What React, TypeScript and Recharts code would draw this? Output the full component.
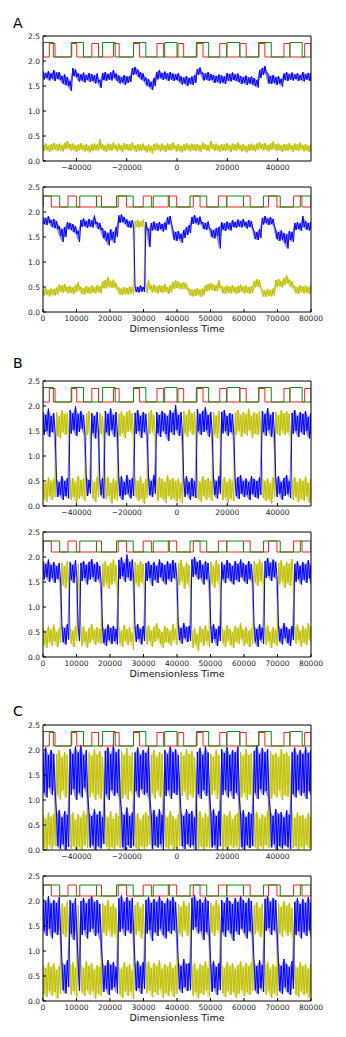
import React from 'react';
import { ComposedChart, Line, Area, XAxis, YAxis } from 'recharts';

const FONT = "'DejaVu Sans', sans-serif";

// ---------- axes ----------
const topDomain: [number, number] = [-53300, 53300];
const bottomDomain: [number, number] = [0, 80000];
const topTicks = [-40000, -20000, 0, 20000, 40000];
const bottomTicks = [0, 10000, 20000, 30000, 40000, 50000, 60000, 70000, 80000];
const yTicks = [0, 0.5, 1.0, 1.5, 2.0, 2.5];

// ---------- input square waves (high intervals) ----------
const topGreenOn = [-53300, -42100, -29600, -17300, -4900, 7700, 19900, 32500, 44900];
const topGreenOff = [-49200, -37200, -24600, -12400, 0, 12600, 25000, 37500, 49800];
const topRedOn = [-50770, -41860, -33890, -25250, -17280, -7970, 400, 7970, 17010, 24990, 32560, 42530, 50770];
const topRedOff = [-48510, -39870, -31230, -22990, -14880, -5320, 2660, 10370, 19670, 27510, 34950, 44920, 53300];
const botGreenOn = [0, 10970, 21950, 32920, 43890, 54860, 65840, 76810];
const botGreenOff = [4990, 15960, 26930, 37710, 48880, 59850, 70820, 80000];
const botRedOn = [0, 7480, 15960, 22440, 29920, 37400, 44880, 52360, 59840, 67320, 74800];
const botRedOff = [2490, 9970, 17460, 24940, 32420, 39900, 46880, 54860, 61850, 69830, 77310];

// ---------- outputs: upper / lower edge of the noisy traces ----------
// Panel A, top
const aTopBlueHi = [1.79,1.76,1.80,1.75,1.82,1.77,1.78,1.70,1.73,1.68,1.60,1.86,1.83,1.75,1.73,1.77,1.72,1.76,1.74,1.71,1.75,1.62,1.76,1.78,1.74,1.77,1.82,1.75,1.71,1.68,1.72,1.69,1.70,1.86,1.88,1.83,1.78,1.75,1.67,1.64,1.58,1.66,1.78,1.82,1.76,1.79,1.75,1.78,1.75,1.73,1.76,1.69,1.67,1.70,1.66,1.69,1.72,1.84,1.87,1.77,1.75,1.78,1.74,1.72,1.70,1.73,1.71,1.69,1.76,1.74,1.77,1.73,1.75,1.70,1.68,1.71,1.67,1.69,1.66,1.62,1.82,1.86,1.90,1.76,1.70,1.72,1.68,1.70,1.64,1.75,1.78,1.74,1.77,1.73,1.76,1.72,1.78,1.74,1.76,1.75];
const aTopBlueLo = [1.63,1.66,1.61,1.65,1.60,1.64,1.62,1.55,1.52,1.50,1.40,1.70,1.68,1.59,1.61,1.57,1.62,1.58,1.60,1.55,1.57,1.46,1.62,1.60,1.63,1.61,1.66,1.60,1.55,1.57,1.52,1.56,1.58,1.72,1.74,1.68,1.63,1.60,1.51,1.48,1.42,1.50,1.63,1.66,1.62,1.64,1.60,1.63,1.60,1.62,1.59,1.53,1.55,1.50,1.54,1.52,1.56,1.72,1.74,1.61,1.63,1.60,1.62,1.56,1.58,1.55,1.57,1.54,1.61,1.59,1.62,1.60,1.58,1.54,1.56,1.52,1.55,1.53,1.50,1.47,1.66,1.72,1.76,1.55,1.54,1.56,1.52,1.55,1.49,1.62,1.60,1.63,1.61,1.64,1.60,1.62,1.59,1.63,1.61,1.60];
const aTopYellowHi = [0.32,0.35,0.31,0.34,0.36,0.33,0.35,0.32,0.36,0.40,0.34,0.35,0.31,0.33,0.36,0.32,0.34,0.30,0.33,0.35,0.33,0.44,0.34,0.31,0.35,0.33,0.37,0.32,0.35,0.31,0.36,0.34,0.33,0.37,0.31,0.34,0.33,0.35,0.30,0.33,0.29,0.34,0.36,0.32,0.35,0.31,0.35,0.33,0.37,0.32,0.34,0.30,0.33,0.36,0.32,0.35,0.33,0.34,0.31,0.37,0.34,0.32,0.40,0.33,0.35,0.31,0.34,0.33,0.36,0.31,0.35,0.33,0.37,0.32,0.34,0.30,0.33,0.35,0.32,0.35,0.38,0.34,0.36,0.32,0.35,0.39,0.33,0.35,0.31,0.34,0.33,0.36,0.31,0.35,0.33,0.37,0.32,0.34,0.31,0.33];
const aTopYellowLo = [0.20,0.22,0.18,0.21,0.23,0.20,0.22,0.19,0.23,0.25,0.21,0.22,0.18,0.21,0.23,0.19,0.21,0.17,0.20,0.22,0.20,0.24,0.21,0.18,0.22,0.20,0.24,0.19,0.22,0.18,0.23,0.21,0.20,0.24,0.18,0.21,0.20,0.22,0.17,0.20,0.15,0.21,0.23,0.19,0.22,0.18,0.22,0.20,0.24,0.19,0.21,0.17,0.20,0.23,0.19,0.22,0.20,0.21,0.18,0.24,0.21,0.19,0.25,0.20,0.22,0.18,0.21,0.20,0.23,0.18,0.22,0.20,0.24,0.19,0.21,0.17,0.20,0.22,0.19,0.22,0.25,0.21,0.23,0.19,0.22,0.24,0.20,0.22,0.18,0.21,0.20,0.23,0.18,0.22,0.20,0.24,0.19,0.21,0.18,0.20];
// Panel A, bottom
const aBotBlueHi = [1.90,1.88,1.92,1.84,1.86,1.82,1.72,1.66,1.70,1.80,1.78,1.76,1.72,1.62,1.84,1.87,1.82,1.86,1.83,1.93,1.80,1.78,1.68,1.62,1.58,1.66,1.60,1.70,1.93,1.95,1.90,1.85,1.82,1.84,0.52,0.50,0.53,0.50,1.80,1.66,1.78,1.81,1.77,1.80,1.76,1.79,1.90,1.92,1.64,1.60,1.62,1.56,1.64,1.70,1.74,1.90,1.94,1.88,1.91,1.80,1.78,1.81,1.66,1.64,1.68,1.70,1.80,1.77,1.81,1.78,1.84,1.80,1.85,1.82,1.86,1.80,1.84,1.82,1.62,1.60,1.66,1.88,1.92,1.87,1.90,1.86,1.64,1.60,1.63,1.58,1.55,1.62,1.60,1.78,1.80,1.77,1.92,1.82,1.78,1.80];
const aBotBlueLo = [1.76,1.74,1.78,1.70,1.68,1.66,1.52,1.40,1.50,1.66,1.64,1.60,1.56,1.40,1.70,1.72,1.68,1.71,1.69,1.76,1.66,1.64,1.48,1.42,1.33,1.45,1.38,1.50,1.78,1.80,1.76,1.70,1.68,1.70,0.40,0.39,0.41,0.40,1.64,1.30,1.63,1.65,1.62,1.66,1.61,1.64,1.75,1.77,1.45,1.42,1.46,1.38,1.48,1.54,1.58,1.76,1.78,1.74,1.77,1.66,1.64,1.67,1.50,1.47,1.52,1.27,1.65,1.62,1.66,1.63,1.70,1.68,1.71,1.69,1.72,1.67,1.70,1.68,1.46,1.44,1.48,1.75,1.78,1.74,1.76,1.72,1.46,1.42,1.45,1.38,1.27,1.44,1.40,1.64,1.66,1.62,1.70,1.65,1.63,1.66];
const aBotYellowHi = [0.46,0.48,0.44,0.47,0.46,0.49,0.55,0.53,0.56,0.50,0.52,0.49,0.54,0.60,0.50,0.48,0.52,0.49,0.53,0.50,0.54,0.51,0.62,0.64,0.70,0.62,0.65,0.58,0.49,0.47,0.50,0.48,0.51,0.49,1.82,1.84,1.81,1.85,0.52,0.64,0.53,0.55,0.51,0.54,0.52,0.56,0.50,0.53,0.60,0.63,0.61,0.58,0.60,0.57,0.47,0.45,0.46,0.48,0.45,0.47,0.54,0.56,0.58,0.55,0.54,0.64,0.52,0.50,0.53,0.51,0.54,0.50,0.52,0.55,0.51,0.53,0.50,0.52,0.62,0.66,0.63,0.45,0.43,0.46,0.44,0.47,0.64,0.66,0.62,0.68,0.74,0.65,0.62,0.52,0.50,0.54,0.51,0.53,0.50,0.55];
const aBotYellowLo = [0.33,0.35,0.31,0.34,0.33,0.35,0.40,0.38,0.41,0.37,0.38,0.36,0.40,0.44,0.36,0.35,0.38,0.36,0.39,0.37,0.40,0.37,0.48,0.47,0.50,0.48,0.49,0.45,0.35,0.34,0.36,0.35,0.37,0.36,1.70,1.69,1.71,1.68,0.38,0.46,0.39,0.40,0.37,0.40,0.38,0.41,0.36,0.39,0.46,0.48,0.47,0.45,0.47,0.44,0.33,0.31,0.32,0.34,0.30,0.33,0.41,0.43,0.44,0.42,0.41,0.48,0.38,0.36,0.39,0.37,0.40,0.36,0.38,0.41,0.37,0.39,0.36,0.38,0.49,0.51,0.48,0.31,0.30,0.32,0.31,0.33,0.50,0.52,0.49,0.54,0.58,0.51,0.48,0.38,0.36,0.40,0.37,0.39,0.36,0.41];
// Panel B, top
const bTopBlueHi = [1.88,1.82,1.95,1.80,1.86,0.55,0.48,0.60,0.50,0.56,1.92,1.85,2.00,1.84,1.90,1.82,0.58,0.52,1.86,1.80,1.88,0.50,0.56,1.90,1.84,1.95,1.82,1.88,0.55,0.60,0.48,0.62,0.52,0.56,1.86,1.92,1.80,1.88,1.84,0.58,0.50,0.62,1.88,1.82,1.90,1.85,1.80,1.92,1.86,2.02,1.82,1.88,0.52,0.60,0.48,0.56,0.50,1.94,1.84,1.90,1.98,1.82,1.88,0.56,0.50,0.60,1.88,1.92,1.80,1.86,1.84,0.52,0.58,0.62,0.50,0.55,0.48,0.60,0.54,0.50,0.58,1.90,1.84,1.96,1.82,1.88,0.55,0.60,0.48,0.56,0.62,0.50,1.86,1.92,1.80,1.88,1.84,1.90,1.78,1.86];
const bTopBlueLo = [1.42,1.50,1.38,1.48,1.45,0.18,0.22,0.12,0.20,0.15,1.45,1.52,1.40,1.48,1.55,1.42,0.20,0.25,1.46,1.35,1.50,0.22,0.15,1.48,1.40,1.52,1.38,1.46,0.20,0.12,0.22,0.25,0.15,0.20,1.44,1.50,1.36,1.48,1.42,0.22,0.18,0.25,1.46,1.38,1.50,1.44,1.30,1.48,1.42,1.52,1.40,1.45,0.18,0.24,0.12,0.20,0.16,1.50,1.42,1.48,1.52,1.38,1.46,0.22,0.15,0.25,1.45,1.50,1.40,1.48,1.42,0.20,0.14,0.25,0.18,0.22,0.12,0.24,0.18,0.15,0.22,1.48,1.40,1.52,1.38,1.46,0.18,0.25,0.12,0.20,0.24,0.16,1.44,1.50,1.38,1.48,1.42,1.50,1.35,1.46];
const bTopYellowHi = [0.52,0.46,0.58,0.50,0.55,1.88,1.80,1.92,1.84,1.86,0.50,0.56,0.48,0.60,0.52,0.55,1.85,1.90,0.54,0.48,0.58,1.86,1.80,0.52,0.58,0.46,0.55,0.50,1.84,1.90,1.80,1.88,1.92,1.85,0.56,0.50,0.60,0.45,0.54,1.86,1.92,1.82,0.50,0.58,0.54,0.48,0.62,0.52,0.56,0.50,0.55,0.46,1.90,1.82,1.94,1.85,1.88,0.55,0.48,0.60,0.52,0.56,0.50,1.88,1.80,1.90,0.52,0.58,0.48,0.55,0.50,1.86,1.92,1.82,1.88,1.84,1.95,1.80,1.88,1.84,1.90,0.56,0.50,0.55,0.46,0.58,1.88,1.82,1.92,1.85,1.90,1.84,0.52,0.58,0.48,0.55,0.50,0.60,0.46,0.54];
const bTopYellowLo = [0.15,0.08,0.20,0.12,0.18,1.40,1.35,1.48,1.42,1.45,0.12,0.18,0.06,0.15,0.20,0.10,1.42,1.48,0.16,0.08,0.18,1.45,1.38,0.12,0.20,0.05,0.15,0.10,1.40,1.46,1.35,1.48,1.50,1.42,0.18,0.10,0.15,0.04,0.16,1.44,1.50,1.40,0.10,0.18,0.14,0.06,0.20,0.12,0.16,0.08,0.15,0.05,1.46,1.38,1.50,1.42,1.45,0.15,0.08,0.20,0.12,0.18,0.10,1.45,1.35,1.48,0.12,0.18,0.06,0.15,0.10,1.42,1.50,1.38,1.46,1.40,1.52,1.36,1.45,1.42,1.48,0.16,0.10,0.14,0.05,0.18,1.45,1.40,1.50,1.42,1.48,1.38,0.12,0.18,0.08,0.15,0.10,0.20,0.06,0.14];
// Panel B, bottom
const bBotBlueHi = [1.92,1.86,1.95,1.84,1.90,1.82,1.88,0.62,0.58,0.66,1.90,1.84,1.94,0.60,1.88,1.92,1.84,1.90,1.96,1.85,1.90,1.82,0.60,0.55,0.65,0.58,0.62,0.56,1.94,2.00,1.88,2.05,1.90,1.95,0.60,0.66,0.56,0.62,1.88,1.92,1.84,1.90,1.82,1.95,1.88,1.84,1.92,1.86,1.94,1.88,0.64,0.58,0.68,0.60,0.62,1.95,2.00,1.90,1.94,1.84,1.92,1.88,0.60,0.66,0.55,0.62,1.90,1.84,1.94,1.88,1.82,1.92,1.86,1.95,1.88,1.84,1.92,1.86,0.62,0.56,0.66,0.58,1.92,1.98,1.88,1.95,1.90,0.64,0.56,0.68,0.60,0.55,0.62,1.86,1.92,1.82,1.90,1.85,1.94,1.84];
const bBotBlueLo = [1.55,1.60,1.50,1.58,1.48,1.56,1.52,0.30,0.25,0.35,1.55,1.48,1.60,0.32,1.52,1.58,1.45,1.55,1.60,1.50,1.56,1.46,0.28,0.22,0.34,0.26,0.32,0.25,1.56,1.62,1.50,1.60,1.52,1.58,0.30,0.36,0.25,0.32,1.52,1.58,1.42,1.55,1.48,1.60,1.52,1.45,1.56,1.50,1.58,1.54,0.34,0.26,0.38,0.30,0.32,1.60,1.65,1.55,1.58,1.45,1.56,1.50,0.28,0.36,0.22,0.32,1.56,1.48,1.58,1.52,1.45,1.55,1.50,1.60,1.52,1.46,1.56,1.50,0.30,0.20,0.35,0.26,1.58,1.62,1.52,1.60,1.55,0.32,0.25,0.38,0.28,0.22,0.34,1.50,1.56,1.45,1.55,1.48,1.58,1.46];
const bBotYellowHi = [0.58,0.52,0.62,0.55,0.65,0.50,0.58,1.88,1.82,1.92,0.60,0.52,0.62,1.86,0.55,0.62,0.50,0.58,0.66,0.54,0.60,0.56,1.86,1.92,1.82,1.88,1.95,1.84,0.60,0.52,0.64,0.55,0.60,0.48,1.90,1.84,1.92,1.86,0.58,0.64,0.52,0.60,0.68,0.56,0.50,0.62,0.58,0.52,0.66,0.56,1.88,1.94,1.80,1.90,1.84,0.50,0.58,0.45,0.62,0.55,0.64,0.52,1.90,1.82,1.94,1.86,0.60,0.52,0.64,0.56,0.50,0.62,0.58,0.68,0.54,0.60,0.52,0.58,1.92,1.85,1.95,1.88,0.56,0.64,0.50,0.60,0.54,1.88,1.94,1.82,1.90,1.86,1.96,0.58,0.66,0.52,0.62,0.56,0.68,0.60];
const bBotYellowLo = [0.25,0.18,0.30,0.22,0.32,0.20,0.28,1.45,1.38,1.50,0.28,0.20,0.32,1.42,0.22,0.30,0.18,0.28,0.35,0.24,0.30,0.26,1.40,1.48,1.36,1.45,1.52,1.42,0.28,0.20,0.32,0.24,0.30,0.15,1.48,1.40,1.50,1.44,0.25,0.32,0.20,0.30,0.36,0.26,0.18,0.30,0.28,0.22,0.34,0.24,1.44,1.52,1.36,1.48,1.40,0.18,0.26,0.12,0.30,0.22,0.32,0.20,1.48,1.38,1.52,1.42,0.28,0.20,0.32,0.24,0.18,0.30,0.26,0.36,0.22,0.28,0.20,0.26,1.50,1.42,1.52,1.45,0.24,0.32,0.18,0.28,0.22,1.45,1.52,1.38,1.48,1.42,1.55,0.26,0.34,0.20,0.30,0.24,0.36,0.28];
// Panel C, top
const cTopBlueHi = [1.95,2.05,1.90,2.00,1.92,0.72,0.80,0.65,0.78,0.70,2.02,1.92,2.08,1.95,2.10,1.90,2.00,0.75,0.68,0.82,0.70,0.78,0.65,1.98,2.05,1.92,2.12,1.95,2.02,0.78,0.70,0.85,0.68,0.75,1.95,2.05,1.90,2.00,1.94,2.06,0.72,0.80,0.66,0.82,0.70,2.00,1.92,2.08,1.95,2.02,1.90,0.76,0.68,0.82,0.72,0.78,0.65,1.96,2.04,1.90,2.08,1.95,0.75,0.82,0.68,0.78,2.02,1.94,2.06,1.90,2.00,1.95,2.08,0.70,0.80,0.66,0.76,0.72,1.98,2.10,1.92,2.04,1.95,2.02,0.78,0.68,0.82,0.72,0.76,0.65,0.80,0.70,1.95,2.05,1.90,2.00,1.92,2.06,1.94,2.00];
const cTopBlueLo = [1.15,1.05,1.25,1.10,1.20,0.08,0.02,0.12,0.00,0.06,1.10,1.22,1.00,1.15,1.05,1.25,1.12,0.05,0.10,0.00,0.08,0.03,0.12,1.12,1.00,1.20,1.08,1.15,1.05,0.06,0.00,0.10,0.04,0.08,1.18,1.05,1.22,1.10,1.15,1.02,0.02,0.10,0.05,0.12,0.00,1.08,1.20,1.02,1.15,1.10,1.22,0.08,0.02,0.12,0.05,0.10,0.00,1.12,1.02,1.20,1.08,1.15,0.05,0.10,0.00,0.08,1.10,1.20,1.05,1.18,1.02,1.15,1.08,0.06,0.00,0.10,0.04,0.08,1.15,1.02,1.22,1.10,1.18,1.05,0.05,0.12,0.00,0.08,0.03,0.10,0.06,0.02,1.12,1.05,1.20,1.08,1.15,1.02,1.18,1.10];
const cTopYellowHi = [0.70,0.62,0.75,0.66,0.72,1.92,2.00,1.85,1.96,1.90,0.68,0.75,0.60,0.72,0.65,0.78,0.70,1.95,1.88,2.02,1.90,1.98,1.86,0.72,0.65,0.78,0.62,0.74,0.68,1.98,1.90,2.04,1.88,1.95,0.66,0.74,0.60,0.70,0.76,0.68,1.90,2.00,1.86,1.96,1.92,0.74,0.65,0.78,0.68,0.62,0.72,1.95,1.88,2.02,1.92,1.98,1.85,0.70,0.78,0.64,0.74,0.66,1.92,1.86,2.00,1.90,0.64,0.72,0.68,0.78,0.62,0.70,0.75,1.96,1.88,2.02,1.90,1.94,0.70,0.76,0.62,0.72,0.66,0.78,1.98,1.90,1.94,1.86,2.02,1.92,1.96,1.88,0.72,0.64,0.76,0.68,0.70,0.62,0.74,0.66];
const cTopYellowLo = [0.05,0.00,0.10,0.02,0.08,1.10,1.00,1.20,1.05,1.15,0.02,0.08,0.00,0.06,0.00,0.10,0.04,1.05,1.15,1.00,1.12,1.02,1.20,0.08,0.00,0.06,0.02,0.10,0.04,1.02,1.12,1.00,1.18,1.08,0.04,0.00,0.08,0.02,0.06,0.10,1.15,1.02,1.20,1.05,1.10,0.06,0.02,0.10,0.00,0.04,0.08,1.08,1.18,1.00,1.12,1.05,1.20,0.02,0.08,0.00,0.06,0.04,1.10,1.20,1.02,1.15,0.00,0.06,0.02,0.10,0.04,0.08,0.00,1.05,1.15,1.00,1.12,1.08,0.06,0.00,0.08,0.02,0.10,0.04,1.02,1.12,1.05,1.20,1.00,1.10,1.06,1.15,0.04,0.08,0.00,0.06,0.02,0.10,0.04,0.06];
// Panel C, bottom
const cBotBlueHi = [2.05,1.98,2.10,1.95,2.02,1.96,2.08,0.78,0.72,0.82,2.02,1.95,2.06,0.75,2.00,2.06,1.95,2.04,2.10,1.98,2.02,1.94,0.76,0.70,0.82,0.72,0.78,0.68,2.05,2.12,1.98,2.08,2.00,2.06,0.74,0.80,0.70,0.78,2.02,2.08,1.96,2.04,1.98,2.10,2.00,1.95,2.06,2.00,2.08,1.98,0.78,0.70,0.84,0.74,0.76,2.06,2.12,2.00,2.04,1.96,2.08,2.00,0.72,0.80,0.68,0.76,2.02,1.96,2.08,2.00,1.94,2.06,1.98,2.10,2.02,1.96,2.06,2.00,0.76,0.70,0.82,0.72,2.04,2.10,1.98,2.06,2.02,0.78,0.70,0.84,0.74,0.68,0.80,1.98,2.06,1.94,2.04,1.96,2.08,1.98];
const cBotBlueLo = [1.40,1.30,1.45,1.25,1.38,1.32,1.42,0.22,0.15,0.28,1.35,1.22,1.40,0.20,1.32,1.42,1.25,1.38,1.45,1.30,1.36,1.20,0.18,0.25,0.12,0.22,0.28,0.15,1.38,1.45,1.30,1.42,1.35,1.40,0.20,0.26,0.14,0.24,1.35,1.42,1.20,1.38,1.30,1.45,1.32,1.25,1.40,1.34,1.42,1.36,0.24,0.16,0.28,0.20,0.22,1.42,1.48,1.35,1.40,1.22,1.38,1.30,0.18,0.26,0.12,0.22,1.38,1.28,1.42,1.35,1.20,1.40,1.32,1.45,1.36,1.25,1.40,1.32,0.22,0.14,0.26,0.18,1.40,1.46,1.32,1.42,1.36,0.20,0.14,0.28,0.18,0.12,0.24,1.32,1.40,1.25,1.38,1.30,1.42,1.28];
const cBotYellowHi = [0.72,0.65,0.78,0.68,0.75,0.62,0.70,1.95,1.88,2.00,0.70,0.78,0.66,1.92,0.74,0.66,0.80,0.70,0.76,0.62,0.72,0.68,1.96,1.90,2.02,1.88,1.95,1.86,0.70,0.64,0.78,0.68,0.74,0.60,1.92,1.98,1.86,1.94,0.72,0.80,0.66,0.76,0.70,0.82,0.64,0.74,0.68,0.78,0.66,0.72,1.94,1.88,2.00,1.90,1.96,0.68,0.76,0.62,0.74,0.70,0.80,0.66,1.96,1.90,2.02,1.92,0.74,0.66,0.78,0.70,0.76,0.64,0.72,0.80,0.68,0.76,0.70,0.78,1.92,1.98,1.86,1.95,0.70,0.78,0.64,0.74,0.68,1.95,1.88,2.00,1.90,1.96,1.86,0.72,0.66,0.78,0.70,0.74,0.64,0.76];
const cBotYellowLo = [0.15,0.08,0.20,0.10,0.18,0.05,0.14,1.35,1.28,1.40,0.12,0.20,0.08,1.32,0.18,0.10,0.22,0.12,0.20,0.05,0.15,0.10,1.38,1.30,1.42,1.28,1.35,1.25,0.14,0.06,0.20,0.10,0.18,0.04,1.32,1.40,1.25,1.36,0.15,0.22,0.08,0.18,0.12,0.24,0.06,0.16,0.10,0.20,0.08,0.14,1.36,1.28,1.42,1.30,1.38,0.10,0.18,0.05,0.16,0.12,0.22,0.08,1.38,1.30,1.42,1.34,0.16,0.08,0.20,0.12,0.18,0.06,0.14,0.22,0.10,0.18,0.12,0.20,1.34,1.40,1.28,1.36,0.12,0.20,0.06,0.16,0.10,1.36,1.28,1.42,1.30,1.38,1.25,0.14,0.08,0.20,0.12,0.16,0.06,0.18];

// ---------- helpers ----------
type Pt = { t: number; v: number };
type Band = { t: number; r: [number, number] };
type Trace = { zig: Pt[]; band: Band[] };

// upper edge at each sample time, lower edge half a step later: a dense zig-zag like the noisy trace,
// plus the filled envelope between the two edges
function noisy(hi: number[], lo: number[], domain: [number, number]): Trace {
  const span = domain[1] - domain[0];
  const sh = span / (hi.length - 1);
  const sl = span / (lo.length - 1);
  const zig: Pt[] = [
    ...hi.map((v, i) => ({ t: domain[0] + i * sh, v })),
    ...lo.map((v, i) => ({ t: Math.min(domain[1], domain[0] + (i + 0.5) * sl), v })),
  ];
  zig.sort((a, b) => a.t - b.t);
  const n = Math.min(hi.length, lo.length);
  const band: Band[] = [];
  for (let i = 0; i < n; i++) {
    band.push({ t: domain[0] + (i * span) / (n - 1), r: [lo[i], hi[i]] });
  }
  return { zig, band };
}

function square(on: number[], off: number[], low: number, high: number, domain: [number, number]): Pt[] {
  const pts: Pt[] = [{ t: domain[0], v: low }];
  on.forEach((s, i) => {
    pts.push({ t: s, v: low });
    pts.push({ t: s, v: high });
    pts.push({ t: off[i], v: high });
    pts.push({ t: off[i], v: low });
  });
  pts.push({ t: domain[1], v: low });
  return pts;
}

const fmtX = (v: number) => (v < 0 ? '\u2212' + Math.abs(v) : String(v));
const fmtY = (v: number) => v.toFixed(1);

const tickStyle = { fill: '#222', fontSize: 7.5, fontFamily: FONT };

const BLUE = '#0000ff';
const YELLOW = '#bfbf00';

type PanelProps = {
  top: number;
  domain: [number, number];
  xTicks: number[];
  blue: Trace;
  yellow: Trace;
  isTop: boolean;
  xLabel?: boolean;
};

function Panel({ top, domain, xTicks, blue, yellow, isTop, xLabel }: PanelProps) {
  const low = isTop ? 2.08 : 2.1;
  const gHigh = isTop ? 2.37 : 2.32;
  const rHigh = isTop ? 2.35 : 2.32;
  const green = isTop
    ? square(topGreenOn, topGreenOff, low, gHigh, domain)
    : square(botGreenOn, botGreenOff, low, gHigh, domain);
  const red = isTop
    ? square(topRedOn, topRedOff, low, rHigh, domain)
    : square(botRedOn, botRedOff, low, rHigh, domain);
  return (
    <>
      <div style={{ position: 'absolute', left: 0, top: top - 5 }}>
        <ComposedChart width={346} height={154} margin={{ top: 4, right: 34, bottom: 4, left: 3 }}>
          <XAxis
            dataKey="t"
            type="number"
            domain={domain}
            ticks={xTicks}
            interval={0}
            allowDataOverflow
            tickFormatter={fmtX}
            height={20}
            tickSize={-3}
            tickMargin={7}
            tick={tickStyle}
            axisLine={{ stroke: '#000' }}
            tickLine={{ stroke: '#000' }}
          />
          <XAxis
            xAxisId="top"
            orientation="top"
            dataKey="t"
            type="number"
            domain={domain}
            ticks={xTicks}
            interval={0}
            allowDataOverflow
            height={1}
            tickSize={-3}
            tick={false}
            axisLine={{ stroke: '#000' }}
            tickLine={{ stroke: '#000' }}
          />
          <YAxis
            type="number"
            domain={[0, 2.5]}
            ticks={yTicks}
            interval={0}
            allowDataOverflow
            tickFormatter={fmtY}
            width={40}
            tickSize={-3}
            tickMargin={6}
            tick={tickStyle}
            axisLine={{ stroke: '#000' }}
            tickLine={{ stroke: '#000' }}
          />
          <YAxis
            yAxisId="right"
            orientation="right"
            type="number"
            domain={[0, 2.5]}
            ticks={yTicks}
            interval={0}
            allowDataOverflow
            width={1}
            tickSize={-3}
            tick={false}
            axisLine={{ stroke: '#000' }}
            tickLine={{ stroke: '#000' }}
          />
          <Area data={yellow.band} dataKey="r" type="linear" stroke="none" fill={YELLOW} fillOpacity={0.5} dot={false} activeDot={false} isAnimationActive={false} />
          <Line data={yellow.zig} dataKey="v" type="linear" stroke={YELLOW} strokeWidth={1} dot={false} isAnimationActive={false} />
          <Area data={blue.band} dataKey="r" type="linear" stroke="none" fill={BLUE} fillOpacity={0.45} dot={false} activeDot={false} isAnimationActive={false} />
          <Line data={blue.zig} dataKey="v" type="linear" stroke={BLUE} strokeWidth={1} dot={false} isAnimationActive={false} />
          <Line data={red} dataKey="v" type="linear" stroke="#ff2020" strokeWidth={1} dot={false} isAnimationActive={false} />
          <Line data={green} dataKey="v" type="linear" stroke="#108a10" strokeWidth={1} dot={false} isAnimationActive={false} />
        </ComposedChart>
      </div>
      {xLabel && (
        <div
          style={{
            position: 'absolute',
            left: 43,
            width: 268,
            top: top + 125 + 10,
            height: 13,
            lineHeight: '13px',
            textAlign: 'center',
            fontFamily: FONT,
            fontSize: 9.5,
            color: '#111',
          }}
        >
          Dimensionless Time
        </div>
      )}
    </>
  );
}

function Letter({ text, top }: { text: string; top: number }) {
  return (
    <div
      style={{
        position: 'absolute',
        left: 13,
        top,
        fontFamily: FONT,
        fontSize: 14,
        lineHeight: '16px',
        color: '#000',
      }}
    >
      {text}
    </div>
  );
}

export default function App() {
  return (
    <div style={{ position: 'absolute', left: 0, top: 0, width: 346, height: 1037, background: '#fff', overflow: 'hidden' }}>
      <Letter text="A" top={15} />
      <Panel top={36} domain={topDomain} xTicks={topTicks} blue={noisy(aTopBlueHi, aTopBlueLo, topDomain)} yellow={noisy(aTopYellowHi, aTopYellowLo, topDomain)} isTop />
      <Panel top={187} domain={bottomDomain} xTicks={bottomTicks} blue={noisy(aBotBlueHi, aBotBlueLo, bottomDomain)} yellow={noisy(aBotYellowHi, aBotYellowLo, bottomDomain)} isTop={false} xLabel />
      <Letter text="B" top={355} />
      <Panel top={381} domain={topDomain} xTicks={topTicks} blue={noisy(bTopBlueHi, bTopBlueLo, topDomain)} yellow={noisy(bTopYellowHi, bTopYellowLo, topDomain)} isTop />
      <Panel top={532} domain={bottomDomain} xTicks={bottomTicks} blue={noisy(bBotBlueHi, bBotBlueLo, bottomDomain)} yellow={noisy(bBotYellowHi, bBotYellowLo, bottomDomain)} isTop={false} xLabel />
      <Letter text="C" top={703} />
      <Panel top={725} domain={topDomain} xTicks={topTicks} blue={noisy(cTopBlueHi, cTopBlueLo, topDomain)} yellow={noisy(cTopYellowHi, cTopYellowLo, topDomain)} isTop />
      <Panel top={876} domain={bottomDomain} xTicks={bottomTicks} blue={noisy(cBotBlueHi, cBotBlueLo, bottomDomain)} yellow={noisy(cBotYellowHi, cBotYellowLo, bottomDomain)} isTop={false} xLabel />
    </div>
  );
}
